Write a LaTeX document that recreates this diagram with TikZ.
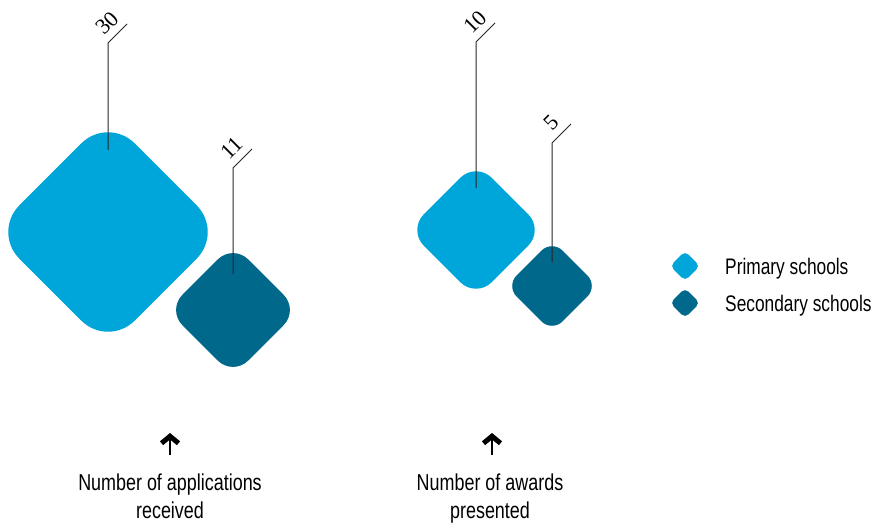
\documentclass[tikz,border=0pt]{standalone}
\usepackage{fontspec}
\setmainfont{Liberation Sans}[FakeStretch=0.78]
\newfontfamily\keyfont{Liberation Sans}[FakeStretch=0.77]
\newfontfamily\numfont{Liberation Serif}
\usetikzlibrary{arrows.meta,positioning}
\definecolor{primblue}{RGB}{0,166,218}
\definecolor{secblue}{RGB}{0,104,139}
\tikzset{
  gem/.style     = {rectangle, rotate=45, inner sep=0pt, minimum size=#1, rounded corners=0.23*#1},
  prim/.style    = {fill=primblue},
  sec/.style     = {fill=secblue},
  leader/.style  = {draw=black!85, line width=1pt},
  count/.style   = {font=\numfont\fontsize{22}{24}\selectfont, inner sep=7pt},
  caption/.style = {font=\fontsize{23}{28}\selectfont, align=center, anchor=north, inner ysep=0pt},
  legtext/.style = {font=\keyfont\fontsize{22.5}{28}\selectfont, anchor=west, inner xsep=0pt},
  pointer/.style = {-{Straight Barb[length=7pt,width=17pt,line width=5pt]}, line width=1.2pt},
}

\begin{document}
\begin{tikzpicture}[x=1pt,y=1pt]
    \useasboundingbox (0,0) rectangle (872,523);

    % Applications (left pair)
    \node[gem=163pt,prim] (app-p) at (108,291) {};
    \node[gem=93pt,sec] (app-s) at (233,213) {};

    % Awards (right pair)
    \node[gem=96pt,prim] (awd-p) at (476,293) {};
    \node[gem=65pt,sec] (awd-s) at (552,237) {};

    % Leaders with counts
    \draw[leader] ([yshift=82pt]app-p.center) -- ++(0,107) -- ++(19,19) node[count,midway,above,sloped] (n-app-p) {30};
    \draw[leader] ([yshift=36pt]app-s.center) -- ++(0,106) -- ++(19,19) node[count,midway,above,sloped] (n-app-s) {11};
    \draw[leader] ([yshift=42pt]awd-p.center) -- ++(0,146) -- ++(19,19) node[count,midway,above,sloped] (n-awd-p) {10};
    \draw[leader] ([yshift=24pt]awd-s.center) -- ++(0,119) -- ++(19,19) node[count,midway,above,sloped] (n-awd-s) {5};

    % Captions
    \node[caption] (cap-app) at (170,49.5) {Number of applications\\received};
    \node[caption] (cap-awd) at (490,49.5) {Number of awards\\presented};
    \draw[pointer] ([yshift=18.5pt]cap-app.north) -- ++(0,22);
    \draw[pointer] ([xshift=2pt,yshift=18.5pt]cap-awd.north) -- ++(0,22);

    % Legend
    \node[gem=21pt,prim] (key-p) at (685,257) {};
    \node[gem=21pt,sec] (key-s) at (685,220) {};
    \node[legtext,right=40pt of key-p.center,yshift=-3pt] (key-p-txt) {Primary schools};
    \node[legtext,right=40pt of key-s.center,yshift=-3pt] (key-s-txt) {Secondary schools};
\end{tikzpicture}
\end{document}
